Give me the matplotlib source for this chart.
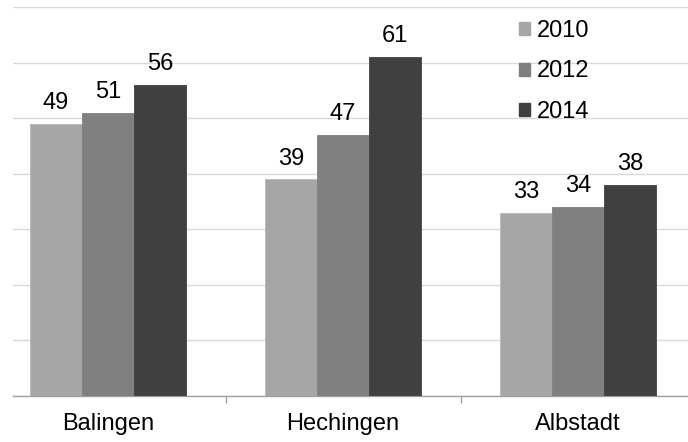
import matplotlib
matplotlib.use("Agg")
import matplotlib.pyplot as plt
from matplotlib.patches import Patch
import numpy as np

plt.rcParams['font.family'] = ['Liberation Sans', 'DejaVu Sans']

categories = ["Balingen", "Hechingen", "Albstadt"]
series_names = ["2010", "2012", "2014"]
values_2010 = [49, 39, 33]
values_2012 = [51, 47, 34]
values_2014 = [56, 61, 38]
series_values = [values_2010, values_2012, values_2014]
colors = ["#a6a6a6", "#808080", "#404040"]
yticks = [0, 10, 20, 30, 40, 50, 60, 70]

W, H = 688, 442
fig = plt.figure(figsize=(W / 100, H / 100), dpi=100)
left_px, right_px, bottom_px, top_px = 13, 688, 396, 7
ax = fig.add_axes([left_px / W, 1 - bottom_px / H,
                   (right_px - left_px) / W, (bottom_px - top_px) / H])

FS = 17
x = np.arange(len(categories))
bw = 0.221
for i, (name, vals, c) in enumerate(zip(series_names, series_values, colors)):
    pos = x + (i - 1) * bw
    ax.bar(pos, vals, width=bw, color=c, edgecolor="#b8b8b8" if i == 0 else c,
           linewidth=0.6, label=name, zorder=3)
    for xp, v in zip(pos, vals):
        ax.annotate(str(v), (xp, v), xytext=(0, 7), textcoords="offset points",
                    ha="center", va="bottom", fontsize=FS, color="#000000")

scale = 235.0
ax.set_xlim((left_px - 108) / scale, (right_px - 108) / scale)
ax.set_ylim(0, 70)
ax.set_yticks(yticks)
ax.yaxis.grid(True, color="#d9d9d9", linewidth=1.0, zorder=0)
ax.tick_params(axis="y", left=False, labelleft=False)
ax.set_xticks(x)
ax.set_xticklabels(categories, fontsize=FS)
ax.tick_params(axis="x", which="major", length=0, pad=12)
ax.set_xticks([0.5, 1.5], minor=True)
ax.tick_params(axis="x", which="minor", length=5, color="#a0a0a0", width=1)
for s in ["top", "right", "left"]:
    ax.spines[s].set_visible(False)
ax.spines["bottom"].set_color("#a0a0a0")
ax.spines["bottom"].set_linewidth(1.0)
ax.set_axisbelow(True)

handles = [Patch(facecolor=c, edgecolor=c, label=n) for n, c in zip(series_names, colors)]
fig.legend(handles=handles, loc="upper left", bbox_to_anchor=(519 / W, 1 - 20 / H),
           frameon=False, fontsize=FS, handlelength=0.47, handleheight=0.47,
           handletextpad=0.3, labelspacing=0.78, borderpad=0, borderaxespad=0)

fig.savefig("out.png", dpi=100)
